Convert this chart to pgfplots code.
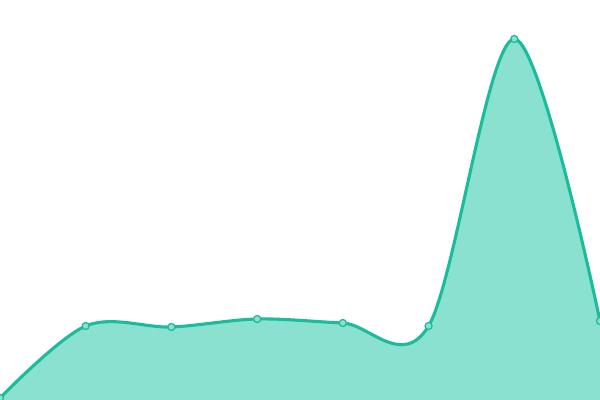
\documentclass[border=0pt]{standalone}
\usepackage{pgfplots}
\pgfplotsset{compat=1.18}
\definecolor{lineC}{HTML}{1ABC9C}
\definecolor{fillC}{HTML}{8AE1D0}
\begin{document}
\begin{tikzpicture}
\pgfplotstableread{
x y
0 2
1 74
2 73
3 81
4 77
5 74
6 361
7 79
}\datatable
\begin{axis}[
  width=15cm, height=10cm, scale only axis,
  hide axis,
  xmin=0, xmax=7, ymin=0, ymax=400,
]
\addplot[smooth, tension=0.55, fill=fillC, draw=none] table[x=x,y=y] {\datatable} \closedcycle;
\addplot[smooth, tension=0.55, color=lineC, line width=2.2pt,
  mark=*, mark options={fill=fillC, draw=lineC, line width=0.9pt, scale=1.25}]
  table[x=x,y=y] {\datatable};
\end{axis}
\pgfresetboundingbox
\useasboundingbox (0,0) rectangle (15cm,10cm);
\end{tikzpicture}
\end{document}
